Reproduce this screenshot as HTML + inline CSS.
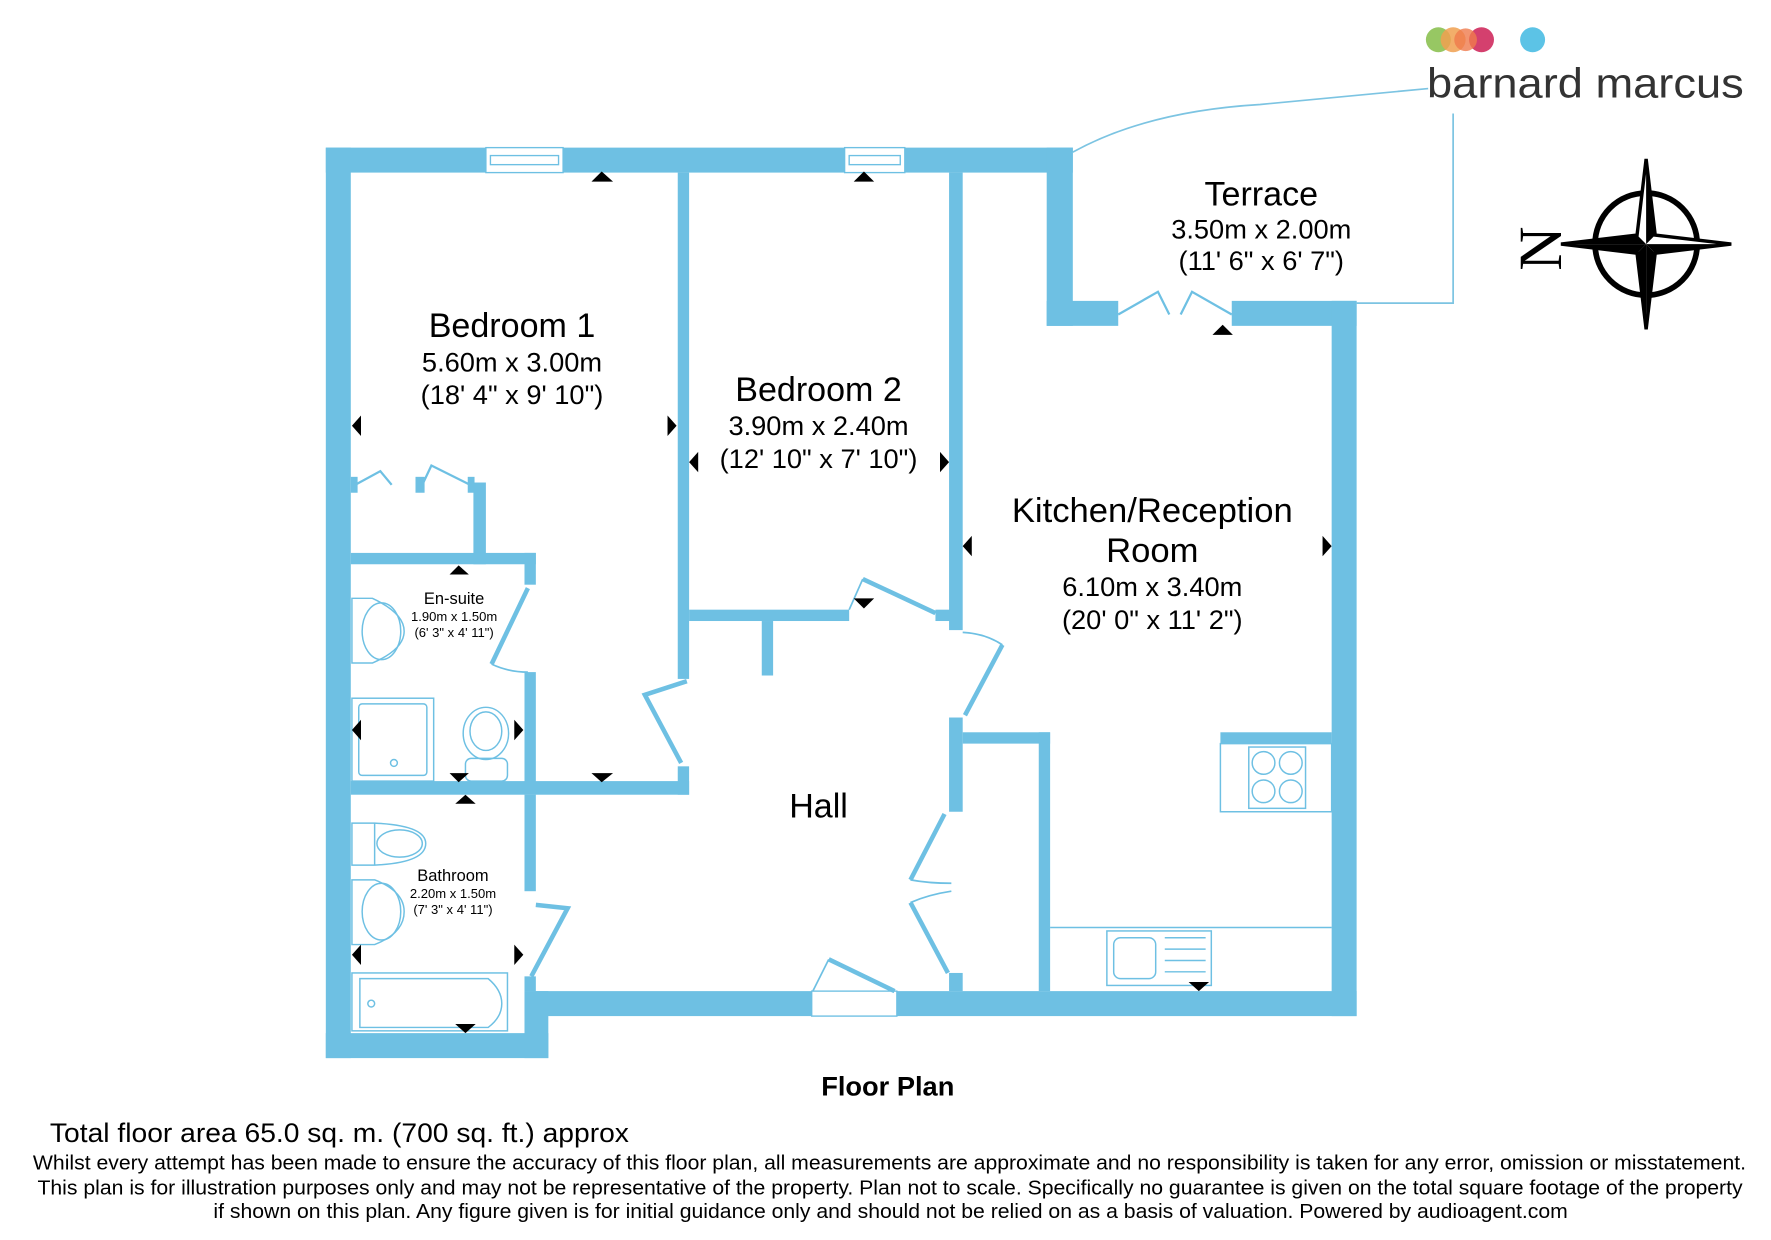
<!DOCTYPE html>
<html><head><meta charset="utf-8"><style>
html,body{margin:0;padding:0;background:#fff;}
svg{display:block;}
text{font-family:"Liberation Sans",Arial,sans-serif;fill:#000;}
</style></head><body>
<svg width="1771" height="1240" viewBox="0 0 1560 1092.2" xmlns="http://www.w3.org/2000/svg">
<rect width="1560" height="1093" fill="#fff"/>
<!-- logo -->
<circle cx="1267" cy="35" r="11" fill="#8cc152" opacity="0.9"/>
<circle cx="1280" cy="35" r="11" fill="#f0a050" opacity="0.85"/>
<circle cx="1305" cy="35" r="11" fill="#d4406e"/>
<circle cx="1291" cy="35" r="10" fill="#ef7a4c" opacity="0.8"/>
<circle cx="1350" cy="35" r="11" fill="#5cc3e6"/>
<text x="1257" y="86" font-size="37" fill="#333" style="fill:#333" textLength="279" lengthAdjust="spacingAndGlyphs">barnard marcus</text>
<!-- terrace outline -->
<g fill="none" stroke="#7cc4e2" stroke-width="1.5">
<path d="M945 134 Q1010 98 1110 92 L1258 78"/>
<path d="M1280 100 L1280 267 L1195 267"/>
</g>
<!-- compass -->
<g transform="translate(1450,215)">
<circle r="45" fill="none" stroke="#000" stroke-width="5"/>
<path d="M0 -75 L8 -8 L75 0 L8 8 L0 75 L-8 8 L-75 0 L-8 -8 Z" fill="#fff" stroke="#000" stroke-width="3"/>
<path d="M0 -75 L8 -8 L0 0 Z M75 0 L8 8 L0 0 Z M0 75 L-8 8 L0 0 Z M-75 0 L-8 -8 L0 0 Z" fill="#000"/>
<path d="M-75 0 L-8 8 L0 0 Z M0 75 L8 8 L0 0Z" fill="#000"/>
</g>
<text x="1357" y="237" font-size="54" text-anchor="middle" font-family="Liberation Serif" style="font-family:'Liberation Serif',serif" transform="rotate(-90 1357 219)">N</text>
<!-- walls -->
<g fill="#6ec0e3">
<rect x="287" y="130" width="658" height="22"/>
<rect x="287" y="130" width="22" height="802"/>
<rect x="922" y="130" width="23" height="157"/>
<rect x="922" y="265" width="63" height="22"/>
<rect x="1085" y="265" width="110" height="22"/>
<rect x="1173" y="265" width="22" height="630"/>
<rect x="462" y="873" width="253" height="22"/>
<rect x="790" y="873" width="405" height="22"/>
<rect x="462" y="873" width="21" height="59"/>
<rect x="287" y="910" width="196" height="22"/>
<rect x="597" y="152" width="10" height="446"/>
<rect x="597" y="675" width="10" height="25"/>
<rect x="836" y="152" width="12" height="403"/>
<rect x="824" y="537" width="14" height="10"/>
<rect x="607" y="537" width="141" height="10"/>
<rect x="671" y="547" width="10" height="48"/>
<rect x="417" y="425" width="11" height="72"/>
<rect x="309" y="487" width="163" height="10"/>
<rect x="462" y="487" width="10" height="28"/>
<rect x="462" y="592" width="10" height="108"/>
<rect x="309" y="688" width="298" height="12"/>
<rect x="462" y="700" width="10" height="85"/>
<rect x="462" y="860" width="10" height="13"/>
<rect x="836" y="632" width="12" height="83"/>
<rect x="848" y="645" width="77" height="10"/>
<rect x="915" y="645" width="10" height="228"/>
<rect x="836" y="857" width="12" height="16"/>
<rect x="1075" y="645" width="98" height="10"/>
<rect x="309" y="420" width="6" height="14"/><rect x="366" y="420" width="8" height="14"/><rect x="412" y="420" width="6" height="14"/>
</g>
<!-- windows -->
<g fill="#fff" stroke="#6ec0e3" stroke-width="1.2">
<rect x="428" y="130" width="68" height="22"/><rect x="432" y="137" width="60" height="8"/>
<rect x="744" y="130" width="53" height="22"/><rect x="748" y="137" width="45" height="8"/>
<rect x="715" y="873" width="75" height="22"/>
</g>
<!-- doors -->
<g fill="none" stroke="#6ec0e3" stroke-width="4">
<path d="M605 600 L568 612 L600 672"/>
<path d="M465 518 L433 585"/><path d="M433 585 Q448 592 465 592" stroke-width="1.5"/>
<path d="M472 797 L500 800 L468 860"/>
<path d="M760 510 L824 540"/><path d="M760 510 L748 537" stroke-width="1.5"/>
<path d="M850 630 L883 568"/><path d="M848 557 Q868 558 883 568" stroke-width="1.5"/>
<path d="M832 717 L802 775"/><path d="M802 775 Q818 778 838 778" stroke-width="1.5"/>
<path d="M802 795 L835 857"/><path d="M802 795 Q818 788 838 785" stroke-width="1.5"/>
<path d="M730 845 L788 873"/><path d="M730 845 L716 873" stroke-width="1.5"/>
<path d="M985 277 L1020 257 L1030 277 M1085 277 L1050 257 L1040 277" stroke-width="2"/>
<path d="M313 427 L335 415 L345 427 M414 427 L380 410 L372 427" stroke-width="2"/>
</g>
<!-- fixtures -->
<g fill="none" stroke="#6ec0e3" stroke-width="1.3">
<path d="M310 527 L328 527 Q356 540 356 556 Q356 572 328 584 L310 584Z"/><ellipse cx="336" cy="556" rx="17" ry="25"/>
<rect x="310" y="615" width="72" height="73"/><rect x="316" y="620" width="60" height="63" rx="3"/><circle cx="347" cy="672" r="3"/>
<ellipse cx="428" cy="646" rx="20" ry="23"/><ellipse cx="428" cy="644" rx="14" ry="17"/><rect x="410" y="668" width="37" height="20" rx="5"/>
<path d="M310 725 L330 725 Q375 727 375 743 Q375 760 330 762 L310 762Z"/><ellipse cx="352" cy="743" rx="20" ry="12"/><line x1="330" y1="725" x2="330" y2="762"/>
<path d="M310 775 L330 775 Q356 785 356 803 Q356 822 330 832 L310 832Z"/><ellipse cx="336" cy="803" rx="17" ry="25"/>
<rect x="310" y="857" width="137" height="51"/><path d="M317 862 L430 862 Q442 872 442 884 Q442 896 430 905 L317 905Z"/><circle cx="327" cy="884" r="3"/>
<rect x="1075" y="655" width="98" height="60"/><rect x="1100" y="658" width="50" height="54"/>
<circle cx="1113" cy="672" r="10"/><circle cx="1137" cy="672" r="10"/><circle cx="1113" cy="697" r="10"/><circle cx="1137" cy="697" r="10"/>
<line x1="925" y1="817" x2="1173" y2="817"/>
<rect x="975" y="820" width="92" height="48"/><rect x="981" y="826" width="37" height="36" rx="6"/>
<path d="M1026 826 H1062 M1026 836 H1062 M1026 846 H1062 M1026 856 H1062"/>
</g>
<!-- arrows -->
<g fill="#000">
<path d="M521 160 L540 160 L530 151Z"/><path d="M752 160 L770 160 L761 151Z"/>
<path d="M310 375 L318 366 L318 384Z"/><path d="M596 375 L588 366 L588 384Z"/>
<path d="M607 407 L615 398 L615 416Z"/><path d="M836 407 L828 398 L828 416Z"/>
<path d="M848 481 L856 472 L856 490Z"/><path d="M1173 481 L1165 472 L1165 490Z"/>
<path d="M1068 295 L1086 295 L1077 286Z"/>
<path d="M752 527 L770 527 L761 536Z"/>
<path d="M396 506 L413 506 L404 498Z"/>
<path d="M310 643 L318 634 L318 652Z"/><path d="M461 643 L453 634 L453 652Z"/>
<path d="M396 681 L413 681 L404 689Z"/><path d="M521 681 L540 681 L530 689Z"/>
<path d="M401 708 L419 708 L410 700Z"/>
<path d="M310 841 L318 832 L318 850Z"/><path d="M461 841 L453 832 L453 850Z"/>
<path d="M401 902 L419 902 L410 910Z"/>
<path d="M1047 865 L1065 865 L1056 873Z"/>
</g>
<!-- labels -->
<g text-anchor="middle">
<text x="1111" y="181" font-size="30">Terrace</text>
<text x="1111" y="210" font-size="24">3.50m x 2.00m</text>
<text x="1111" y="238" font-size="24">(11' 6" x 6' 7")</text>
<text x="451" y="297" font-size="30">Bedroom 1</text>
<text x="451" y="327" font-size="24">5.60m x 3.00m</text>
<text x="451" y="356" font-size="24">(18' 4" x 9' 10")</text>
<text x="721" y="353" font-size="30">Bedroom 2</text>
<text x="721" y="383" font-size="24">3.90m x 2.40m</text>
<text x="721" y="412" font-size="24">(12' 10" x 7' 10")</text>
<text x="1015" y="460" font-size="30.5">Kitchen/Reception</text>
<text x="1015" y="495" font-size="30.5">Room</text>
<text x="1015" y="525" font-size="24">6.10m x 3.40m</text>
<text x="1015" y="554" font-size="24">(20' 0" x 11' 2")</text>
<text x="721" y="720" font-size="30">Hall</text>
<text x="400" y="532" font-size="14.5">En-suite</text>
<text x="400" y="547" font-size="11.5">1.90m x 1.50m</text>
<text x="400" y="561" font-size="11.5">(6' 3" x 4' 11")</text>
<text x="399" y="776" font-size="14.5">Bathroom</text>
<text x="399" y="791" font-size="11.5">2.20m x 1.50m</text>
<text x="399" y="805" font-size="11.5">(7' 3" x 4' 11")</text>
<text x="782" y="965" font-size="24" font-weight="bold">Floor Plan</text>
</g>
<text x="29" y="1030" font-size="18" textLength="1509" lengthAdjust="spacingAndGlyphs">Whilst every attempt has been made to ensure the accuracy of this floor plan, all measurements are approximate and no responsibility is taken for any error, omission or misstatement.</text>
<text x="33" y="1052" font-size="18" textLength="1502" lengthAdjust="spacingAndGlyphs">This plan is for illustration purposes only and may not be representative of the property. Plan not to scale. Specifically no guarantee is given on the total square footage of the property</text>
<text x="188" y="1073" font-size="18" textLength="1193" lengthAdjust="spacingAndGlyphs">if shown on this plan. Any figure given is for initial guidance only and should not be relied on as a basis of valuation. Powered by audioagent.com</text>
<text x="44" y="1006" font-size="24" textLength="510" lengthAdjust="spacingAndGlyphs">Total floor area 65.0 sq. m. (700 sq. ft.) approx</text>
</svg>
</body></html>
